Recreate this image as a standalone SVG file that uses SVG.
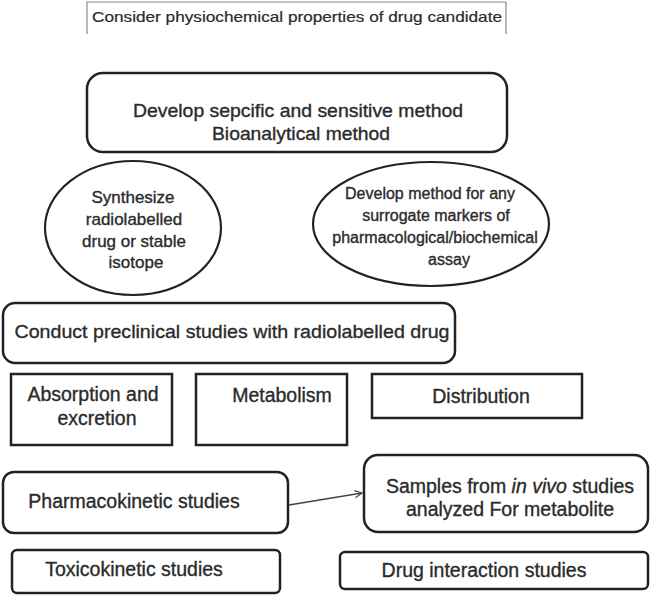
<svg xmlns="http://www.w3.org/2000/svg" width="651" height="597" viewBox="0 0 651 597">
<defs>
<style>
.t{font-family:"Liberation Sans",Arial,sans-serif;fill:#2b2b2b;stroke:#2b2b2b;stroke-width:0.35;text-anchor:middle}
.box{fill:#fff;stroke:#222;stroke-width:2.5}
.ell{fill:#fff;stroke:#222;stroke-width:2.2}
.conn{fill:none;stroke:#444;stroke-width:1.3}
</style>
<marker id="arr" viewBox="0 0 10 10" refX="9" refY="5" markerWidth="9" markerHeight="9" orient="auto" markerUnits="userSpaceOnUse">
<path d="M1,1 L9,5 L1,9" fill="none" stroke="#444" stroke-width="1.3"/>
</marker>
</defs>
<rect width="651" height="597" fill="#fff"/>

<g id="n-consider">
<path d="M87,34 V2 H506 V34" fill="none" stroke="#888" stroke-width="1.2"/>
<text class="t" x="297" y="22" font-size="14.5" textLength="410" lengthAdjust="spacingAndGlyphs" style="stroke-width:0.2">Consider physiochemical properties of drug candidate</text>
</g>

<g id="n-develop">
<rect class="box" x="87" y="73" width="420" height="79" rx="16"/>
<text class="t" x="298" y="117" font-size="18.5" textLength="330" lengthAdjust="spacingAndGlyphs">Develop sepcific and sensitive method</text>
<text class="t" x="301" y="140" font-size="18.5" textLength="178" lengthAdjust="spacingAndGlyphs">Bioanalytical method</text>
</g>

<g id="n-synthesize">
<ellipse class="ell" cx="133" cy="228" rx="88" ry="67"/>
<text class="t" x="133" y="203" font-size="17">Synthesize</text>
<text class="t" x="134" y="225" font-size="17">radiolabelled</text>
<text class="t" x="134" y="247" font-size="17">drug or stable</text>
<text class="t" x="136" y="268" font-size="17">isotope</text>
</g>

<g id="n-surrogate">
<ellipse class="ell" cx="431" cy="224" rx="118" ry="62"/>
<text class="t" x="430" y="199" font-size="16">Develop method for any</text>
<text class="t" x="436" y="221" font-size="16">surrogate markers of</text>
<text class="t" x="435" y="243" font-size="16">pharmacological/biochemical</text>
<text class="t" x="449" y="265" font-size="16">assay</text>
</g>

<g id="n-conduct">
<rect class="box" x="3" y="303" width="452" height="60" rx="12"/>
<text class="t" x="232" y="338" font-size="19" textLength="435" lengthAdjust="spacingAndGlyphs">Conduct preclinical studies with radiolabelled drug</text>
</g>

<g id="n-absorption">
<rect class="box" x="11" y="374" width="161" height="71"/>
<text class="t" x="93" y="401" font-size="19.5">Absorption and</text>
<text class="t" x="97" y="425" font-size="19.5">excretion</text>
</g>

<g id="n-metabolism">
<rect class="box" x="196" y="374" width="151" height="71"/>
<text class="t" x="282" y="402" font-size="19.5">Metabolism</text>
</g>

<g id="n-distribution">
<rect class="box" x="372" y="374" width="210" height="44"/>
<text class="t" x="481" y="403" font-size="19.5">Distribution</text>
</g>

<g id="n-pk">
<rect class="box" x="3" y="472" width="285" height="61" rx="11"/>
<text class="t" x="134" y="508" font-size="19.5">Pharmacokinetic studies</text>
</g>

<g id="n-samples">
<rect class="box" x="364" y="455" width="284" height="77" rx="14"/>
<text class="t" x="510" y="493" font-size="19.5">Samples from <tspan font-style="italic">in vivo</tspan> studies</text>
<text class="t" x="510" y="516" font-size="19.5">analyzed For metabolite</text>
</g>

<g id="n-toxico">
<rect class="box" x="12" y="550" width="268" height="43" rx="5"/>
<text class="t" x="134" y="576" font-size="19.5">Toxicokinetic studies</text>
</g>

<g id="n-drug">
<rect class="box" x="340" y="552" width="308" height="37" rx="5"/>
<text class="t" x="484" y="577" font-size="19.5">Drug interaction studies</text>
</g>

<g id="connectors">
<line class="conn" x1="289" y1="505" x2="362" y2="493" marker-end="url(#arr)"/>
</g>
</svg>
